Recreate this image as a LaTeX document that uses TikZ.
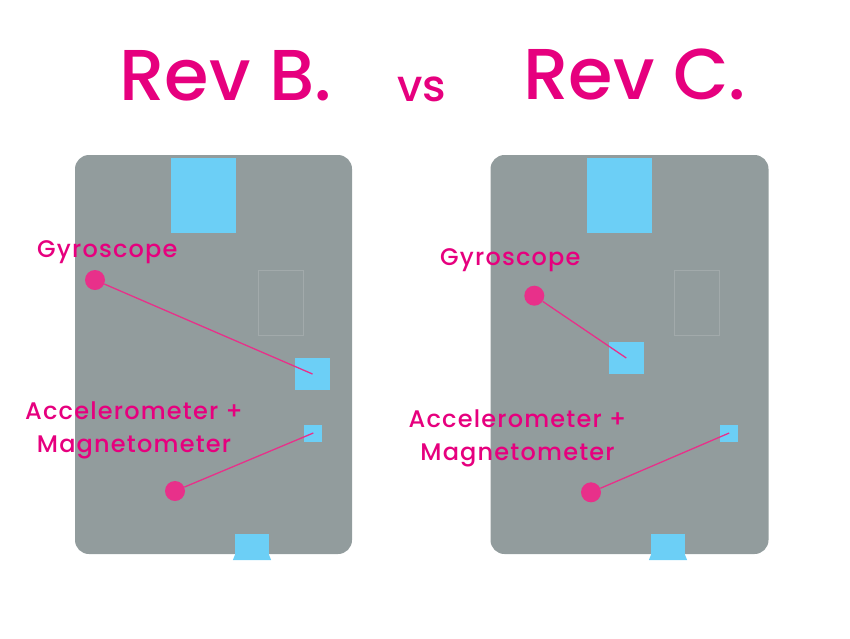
\documentclass[tikz,border=0pt]{standalone}
\usepackage{fontspec}
\usetikzlibrary{calc}
\setmainfont{Poppins}
\newfontfamily\titlefont{Poppins Medium}
\newfontfamily\labelfont[LetterSpace=5]{Poppins Medium}
\definecolor{boardgray}{RGB}{146,156,157}
\definecolor{outlinegray}{RGB}{162,170,171}
\definecolor{chipblue}{RGB}{108,207,246}
\definecolor{revpink}{RGB}{230,0,126}
\definecolor{dotpink}{RGB}{232,48,138}
\tikzset{
  board/.style={rectangle, rounded corners=14pt, fill=boardgray, draw=none, inner sep=0pt},
  chip/.style={rectangle, fill=chipblue, draw=none, inner sep=0pt},
  ghost/.style={rectangle, draw=outlinegray, line width=0.8pt, inner sep=0pt},
  pin/.style={circle, fill=dotpink, draw=none, inner sep=0pt, minimum size=20pt},
  lead/.style={dotpink, line width=1.3pt},
  title/.style={revpink, inner sep=0pt, font=\titlefont\fontsize{72}{72}\selectfont},
  label/.style={revpink, inner sep=0pt, align=center, font=\labelfont\fontsize{24}{33}\selectfont}
}
\begin{document}
\begin{tikzpicture}[x=1pt, y=-1pt]
        \useasboundingbox (0,0) rectangle (850,638);

        % Titles
        \node (revB) [title, anchor=base west] at (119,100) {Rev B.};
        \node (vs) [title, anchor=base west, font=\titlefont\fontsize{44}{44}\selectfont] at (397,101) {vs};
        \node (revC) [title, anchor=base west] at (523,99) {Rev C.};

        % Boards
        \node (boardB) [board, minimum width=277pt, minimum height=399pt] at (213.5,354.5) {};
        \node (boardC) [board, minimum width=278pt, minimum height=399pt] at (629.5,354.5) {};

        % Parts on Rev B.
        \node (usbB) [chip, minimum width=65pt, minimum height=75pt] at (203.5,195.5) {};
        \node (slotB) [ghost, minimum width=45pt, minimum height=65pt] at (280.5,303) {};
        \node (gyroB) [chip, minimum width=35pt, minimum height=32pt] at (312.5,374) {};
        \node (accB) [chip, minimum width=18pt, minimum height=17pt] at (313.3,433) {};
        \node (conB) [chip, minimum width=34pt, minimum height=21pt] at (252,544.5) {};
        \fill[chipblue] (conB.south west) -- ++(-2,5) -- ($(conB.south east)+(2,5)$) -- (conB.south east) -- cycle;

        % Parts on Rev C.
        \node (usbC) [chip, minimum width=65pt, minimum height=75pt] at (619,195.5) {};
        \node (slotC) [ghost, minimum width=45pt, minimum height=65pt] at (696.5,303) {};
        \node (gyroC) [chip, minimum width=35pt, minimum height=32pt] at (626.3,358) {};
        \node (accC) [chip, minimum width=18pt, minimum height=17pt] at (729.2,433) {};
        \node (conC) [chip, minimum width=34pt, minimum height=21pt] at (668,544.5) {};
        \fill[chipblue] (conC.south west) -- ++(-2,5) -- ($(conC.south east)+(2,5)$) -- (conC.south east) -- cycle;

        % Labels
        \node (gyroLabB) [label, anchor=base west] at (37,257) {Gyroscope};
        \node (accLabB) [label, anchor=north] at (134,402) {Accelerometer +\\Magnetometer};
        \node (gyroLabC) [label, anchor=base west] at (440,265) {Gyroscope};
        \node (accLabC) [label, anchor=north] at (517.5,410) {Accelerometer +\\Magnetometer};

        % Pins
        \node (gyroPinB) [pin] at (95,280) {};
        \node (accPinB) [pin] at (175,491) {};
        \node (gyroPinC) [pin] at (534.3,295.7) {};
        \node (accPinC) [pin] at (591,492.3) {};

        % Edges
        \draw[lead] (gyroPinB) -- (gyroB.center);
        \draw[lead] (accPinB) -- (accB.center);
        \draw[lead] (gyroPinC) -- (gyroC.center);
        \draw[lead] (accPinC) -- (accC.center);
    \end{tikzpicture}
\end{document}
